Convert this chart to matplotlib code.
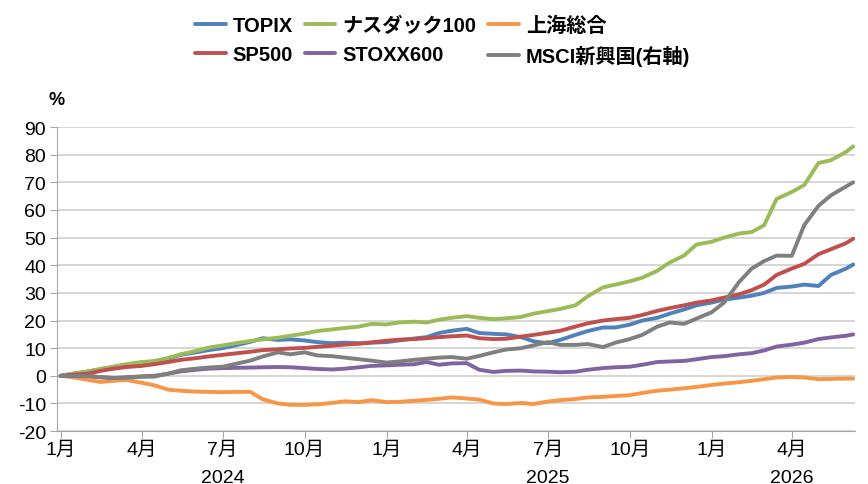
import numpy as np
import pandas as pd
import matplotlib
matplotlib.use("Agg")
import matplotlib.pyplot as plt
import matplotlib.dates as mdates
import matplotlib.transforms as mtransforms

plt.rcParams['font.family'] = ['Liberation Sans', 'Noto Sans CJK JP']
plt.rcParams['axes.unicode_minus'] = False

# semi-monthly points, Jan 2024 - early Jun 2026
dates = list(pd.date_range("2024-01-01", "2026-06-01", freq="SMS")) + [pd.Timestamp("2026-06-09")]

topix = [0, 0.8, 1.6, 2.4, 3.3, 4.0, 4.8, 5.2, 6.2, 7.6,
         8.5, 9.3, 10.0, 11.0, 12.3, 13.6, 13.0, 13.2, 12.8, 12.2,
         11.8, 12.0, 11.8, 12.0, 12.2, 12.8, 13.5, 14.0, 15.5, 16.3,
         17.0, 15.5, 15.2, 15.0, 14.0, 12.5, 11.8, 13.0, 14.8, 16.2,
         17.5, 17.5, 18.5, 20.0, 21.0, 22.5, 24.0, 25.5, 26.5, 27.6,
         28.3, 29.0, 30.0, 31.8, 32.3, 33.0, 32.5, 36.5, 38.8, 40.3]
nasdaq = [0, 0.8, 1.6, 2.5, 3.3, 4.2, 5.0, 5.3, 6.5, 7.8,
          9.0, 10.2, 11.0, 11.8, 12.6, 13.2, 13.8, 14.5, 15.3, 16.2,
          16.8, 17.3, 17.8, 18.8, 18.6, 19.3, 19.6, 19.3, 20.3, 21.0,
          21.6, 21.0, 20.5, 20.8, 21.3, 22.5, 23.4, 24.2, 25.5, 28.8,
          32.0, 33.0, 34.2, 35.5, 38.0, 41.0, 43.5, 47.5, 48.5, 50.0,
          51.5, 52.0, 54.5, 64.0, 66.5, 69.0, 77.0, 78.0, 81.0, 83.0]
shanghai = [0, -0.5, -1.5, -2.2, -1.8, -1.5, -2.5, -3.4, -5.0, -5.4,
            -5.7, -5.8, -5.9, -5.8, -5.8, -8.5, -10.0, -10.5, -10.5, -10.3,
            -9.8, -9.2, -9.5, -8.8, -9.5, -9.4, -9.0, -8.7, -8.3, -7.8,
            -8.2, -8.6, -10.0, -10.2, -9.8, -10.2, -9.3, -8.8, -8.4, -7.8,
            -7.6, -7.3, -7.0, -6.2, -5.4, -5.0, -4.5, -4.0, -3.3, -2.8,
            -2.3, -1.8, -1.2, -0.6, -0.4, -0.6, -1.2, -1.1, -1.0, -1.0]
sp500 = [0, 0.4, 0.8, 1.8, 2.6, 3.2, 3.6, 4.2, 5.0, 5.8,
         6.4, 7.0, 7.6, 8.1, 8.7, 9.3, 9.6, 9.9, 10.1, 10.5,
         10.9, 11.3, 11.6, 12.1, 12.7, 13.1, 13.3, 13.6, 14.0, 14.3,
         14.6, 13.6, 13.3, 13.4, 14.2, 14.8, 15.6, 16.3, 17.8, 19.0,
         20.0, 20.5, 21.0, 22.0, 23.5, 24.5, 25.5, 26.5, 27.3, 28.3,
         29.5, 31.0, 33.0, 36.5, 38.8, 40.5, 44.0, 45.8, 48.0, 49.6]
stoxx = [0, -0.1, -0.1, -0.5, -0.8, -0.5, -0.2, 0.0, 0.8, 1.6,
         2.2, 2.6, 2.8, 2.9, 3.0, 3.1, 3.2, 3.1, 2.8, 2.5,
         2.3, 2.6, 3.1, 3.6, 3.8, 4.0, 4.2, 5.0, 4.0, 4.5,
         4.6, 2.2, 1.4, 1.8, 1.9, 1.6, 1.5, 1.3, 1.5, 2.2,
         2.8, 3.1, 3.3, 4.0, 5.0, 5.2, 5.4, 6.0, 6.8, 7.1,
         7.8, 8.2, 9.2, 10.6, 11.3, 12.0, 13.3, 13.9, 14.5, 15.0]
msci = [0, -0.1, -0.1, -0.5, -0.8, -0.7, -0.3, -0.3, 0.8, 2.0,
        2.6, 3.0, 3.3, 4.3, 5.5, 7.0, 8.5, 7.8, 8.5, 7.4,
        7.1, 6.6, 6.0, 5.5, 4.8, 5.2, 5.8, 6.2, 6.6, 6.8,
        6.2, 7.2, 8.5, 9.5, 10.0, 11.0, 12.2, 11.2, 11.2, 11.5,
        10.4, 12.0, 13.3, 14.8, 17.8, 19.3, 18.8, 20.7, 23.0, 26.5,
        34.0, 38.8, 41.5, 43.5, 43.4, 54.5, 61.5, 65.3, 68.5, 70.0]

names = ["TOPIX", "ナスダック100", "上海総合", "SP500", "STOXX600", "MSCI新興国(右軸)"]
series = [topix, nasdaq, shanghai, sp500, stoxx, msci]
colors = ["#4F81BD", "#9BBB59", "#F79646", "#C0504D", "#8064A2", "#7F7F7F"]

fig = plt.figure(figsize=(8.68, 4.85), dpi=100)
ax = fig.add_axes([0.0657, 0.109, 0.9193, 0.627])

lines = []
for name, vals, c in zip(names, series, colors):
    l, = ax.plot(dates, vals, color=c, lw=2.8, label=name, solid_capstyle="round")
    lines.append(l)

ax.set_ylim(-20, 90)
ax.set_yticks(np.arange(-20, 91, 10))
ax.set_xlim(pd.Timestamp("2023-12-28"), pd.Timestamp("2026-06-11"))
ax.grid(axis="y", color="#D0D0D0", lw=1.2)
ax.set_axisbelow(True)
for s in ["top", "right"]:
    ax.spines[s].set_visible(False)
ax.spines["left"].set_color("#A6A6A6")
ax.spines["bottom"].set_color("#A6A6A6")

ax.tick_params(axis="y", labelsize=14, length=5, color="#A6A6A6", pad=3)
qt = pd.date_range("2024-01-01", "2026-04-01", freq="QS")
ax.set_xticks(qt)
ax.set_xticklabels([f"{d.month}月" for d in qt])
ax.tick_params(axis="x", labelsize=14, length=5, color="#A6A6A6", pad=2)
ax.set_xticks(pd.to_datetime(["2024-01-01", "2025-01-01", "2026-01-01"]), minor=True)
ax.tick_params(axis="x", which="minor", length=9, direction="inout", color="#A6A6A6")

trans = mtransforms.blended_transform_factory(ax.transData, ax.transAxes)
for y, d in [("2024", "2024-07-01"), ("2025", "2025-07-01"), ("2026", "2026-04-01")]:
    ax.text(mdates.date2num(pd.Timestamp(d)), -0.151, y, transform=trans,
            ha="center", va="center", fontsize=14)

ax.text(-0.011, 1.09, "%", transform=ax.transAxes, fontsize=13, fontweight="bold",
        ha="left", va="center")

# legend: rows TOPIX/ナスダック/上海, SP500/STOXX/MSCI
order = [0, 3, 1, 4, 2, 5]
fig.legend([lines[i] for i in order], [names[i] for i in order], ncol=3,
           loc="upper center", bbox_to_anchor=(0.51, 1.003), frameon=False,
           prop={"family": ["Liberation Sans", "Noto Sans CJK JP"], "weight": "bold", "size": 14.5},
           handlelength=1.5, handletextpad=0.35, columnspacing=0.6, labelspacing=0.5)

fig.savefig("out.png", dpi=100)
